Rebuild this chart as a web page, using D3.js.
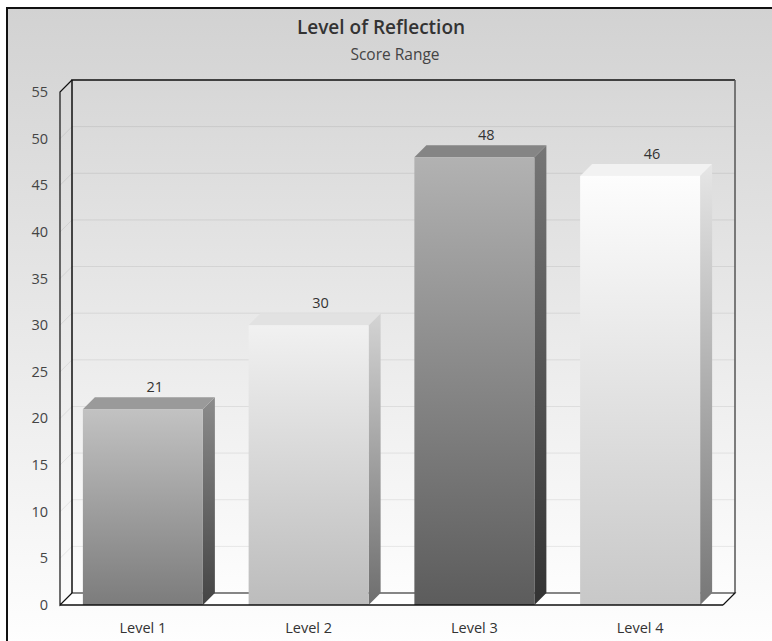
<!DOCTYPE html>
<html>
<head>
<meta charset="utf-8">
<script src="https://cdn.jsdelivr.net/npm/d3@7/dist/d3.min.js"></script>
<style>
  html, body { margin: 0; padding: 0; background: #fff; }
  svg { display: block; font-family: "Open Sans", "Noto Sans", sans-serif; }
</style>
</head>
<body>
<svg id="chart" width="772" height="641"></svg>
<script>
// Chart data
const categories = ["Level 1", "Level 2", "Level 3", "Level 4"];
const values = [21, 30, 48, 46];
const yTicks = [0, 5, 10, 15, 20, 25, 30, 35, 40, 45, 50, 55];
const titleText = "Level of Reflection";
const subtitleText = "Score Range";

// Per-bar shading: [front top, front bottom, side top, side bottom, top face]
const barShades = [
  ["#c2c2c2", "#7c7c7c", "#8c8c8c", "#444444", "#9a9a9a"],
  ["#f1f1f1", "#bcbcbc", "#d4d4d4", "#6e6e6e", "#e2e2e2"],
  ["#b2b2b2", "#5c5c5c", "#767676", "#333333", "#858585"],
  ["#fdfdfd", "#c8c8c8", "#e6e6e6", "#777777", "#f2f2f2"]
];

const svg = d3.select("#chart");
const defs = svg.append("defs");

// Plot geometry (front face) and 3D depth
const plotLeft = 60, plotRight = 723, plotBottom = 605, plotTop = 92;
const dx = 12, dy = 12;

const x = d3.scaleBand().domain(categories).range([plotLeft, plotRight])
  .paddingInner(0.276).paddingOuter(0.138);
const y = d3.scaleLinear().domain([0, 55]).range([plotBottom, plotTop]);

// Background panel
const bg = defs.append("linearGradient").attr("id", "bgGrad")
  .attr("x1", 0).attr("y1", 0).attr("x2", 0).attr("y2", 1);
bg.append("stop").attr("offset", 0).attr("stop-color", "#d2d2d2");
bg.append("stop").attr("offset", 1).attr("stop-color", "#ffffff");

svg.append("rect").attr("x", 7).attr("y", 8).attr("width", 780).attr("height", 650)
  .attr("fill", "url(#bgGrad)");
svg.append("path").attr("d", "M7,660V8H780").attr("fill", "none")
  .attr("stroke", "#111").attr("stroke-width", 2);

// Back wall
const wall = defs.append("linearGradient").attr("id", "wallGrad")
  .attr("x1", 0).attr("y1", 0).attr("x2", 0).attr("y2", 1);
wall.append("stop").attr("offset", 0).attr("stop-color", "#d7d7d7");
wall.append("stop").attr("offset", 1).attr("stop-color", "#fdfdfd");

svg.append("rect")
  .attr("x", plotLeft + dx).attr("y", y(55) - dy)
  .attr("width", plotRight - plotLeft).attr("height", y(0) - y(55))
  .attr("fill", "url(#wallGrad)");

// Floor
svg.append("path")
  .attr("d", `M${plotLeft},${plotBottom}L${plotLeft + dx},${plotBottom - dy}L${plotRight + dx},${plotBottom - dy}L${plotRight},${plotBottom}Z`)
  .attr("fill", "#ffffff");

// Gridlines on back wall and left side wall
const grid = svg.append("g").attr("stroke", "#000").attr("stroke-opacity", 0.08).attr("fill", "none");
yTicks.filter(v => v > 0 && v < 55).forEach(v => {
  grid.append("path")
    .attr("d", `M${plotLeft},${y(v)}L${plotLeft + dx},${y(v) - dy}L${plotRight + dx},${y(v) - dy}`);
});

// Frame lines
const frame = svg.append("g").attr("fill", "none");
frame.append("path")
  .attr("d", `M${plotLeft + dx},${plotBottom - dy}V${plotTop - dy}H${plotRight + dx}`)
  .attr("stroke", "#111").attr("stroke-width", 1.5);
frame.append("path")
  .attr("d", `M${plotRight + dx},${plotTop - dy}V${plotBottom - dy}`)
  .attr("stroke", "#555").attr("stroke-width", 1.5);
frame.append("path")
  .attr("d", `M${plotLeft + dx},${plotBottom - dy}H${plotRight + dx}L${plotRight},${plotBottom}`)
  .attr("stroke", "#111").attr("stroke-width", 1.2);
frame.append("path")
  .attr("d", `M${plotLeft + dx},${plotTop - dy}L${plotLeft},${plotTop}V${plotBottom}L${plotLeft + dx},${plotBottom - dy}`)
  .attr("stroke", "#111").attr("stroke-width", 1.2);

// Bar gradients
barShades.forEach((s, i) => {
  const f = defs.append("linearGradient").attr("id", `front${i}`)
    .attr("x1", 0).attr("y1", 0).attr("x2", 0).attr("y2", 1);
  f.append("stop").attr("offset", 0).attr("stop-color", s[0]);
  f.append("stop").attr("offset", 1).attr("stop-color", s[1]);
  const sd = defs.append("linearGradient").attr("id", `side${i}`)
    .attr("x1", 0).attr("y1", 0).attr("x2", 0).attr("y2", 1);
  sd.append("stop").attr("offset", 0).attr("stop-color", s[2]);
  sd.append("stop").attr("offset", 1).attr("stop-color", s[3]);
});

// Bars
const bars = svg.append("g").selectAll("g").data(categories).join("g");
bars.each(function (c, i) {
  const g = d3.select(this);
  const x0 = x(c), w = x.bandwidth(), yv = y(values[i]);
  g.append("path")
    .attr("d", `M${x0 + w},${yv}L${x0 + w + dx},${yv - dy}L${x0 + w + dx},${plotBottom - dy}L${x0 + w},${plotBottom}Z`)
    .attr("fill", `url(#side${i})`);
  g.append("path")
    .attr("d", `M${x0},${yv}L${x0 + dx},${yv - dy}L${x0 + w + dx},${yv - dy}L${x0 + w},${yv}Z`)
    .attr("fill", barShades[i][4]);
  g.append("rect")
    .attr("x", x0).attr("y", yv).attr("width", w).attr("height", plotBottom - yv)
    .attr("fill", `url(#front${i})`);
  g.append("text")
    .attr("x", x0 + w / 2 + dx).attr("y", yv - dy - 5)
    .attr("text-anchor", "middle").attr("font-size", 14.5).attr("fill", "#333")
    .text(values[i]);
});

// Front floor edge
svg.append("line").attr("x1", plotLeft).attr("x2", plotRight).attr("y1", plotBottom).attr("y2", plotBottom)
  .attr("stroke", "#111").attr("stroke-width", 1.5);

// Y axis labels
svg.append("g").selectAll("text").data(yTicks).join("text")
  .attr("x", 48).attr("y", d => y(d) + 5)
  .attr("text-anchor", "end").attr("font-size", 14.5).attr("fill", "#444")
  .text(d => d);

// X axis labels
svg.append("g").selectAll("text").data(categories).join("text")
  .attr("x", d => x(d) + x.bandwidth() / 2).attr("y", 633)
  .attr("text-anchor", "middle").attr("font-size", 14.5).attr("fill", "#333")
  .text(d => d);

// Titles
svg.append("text").attr("x", 381).attr("y", 34).attr("text-anchor", "middle")
  .attr("font-size", 19).attr("font-weight", 600).attr("fill", "#333").text(titleText);
svg.append("text").attr("x", 395).attr("y", 60).attr("text-anchor", "middle")
  .attr("font-size", 15.5).attr("fill", "#444").text(subtitleText);
</script>
</body>
</html>
